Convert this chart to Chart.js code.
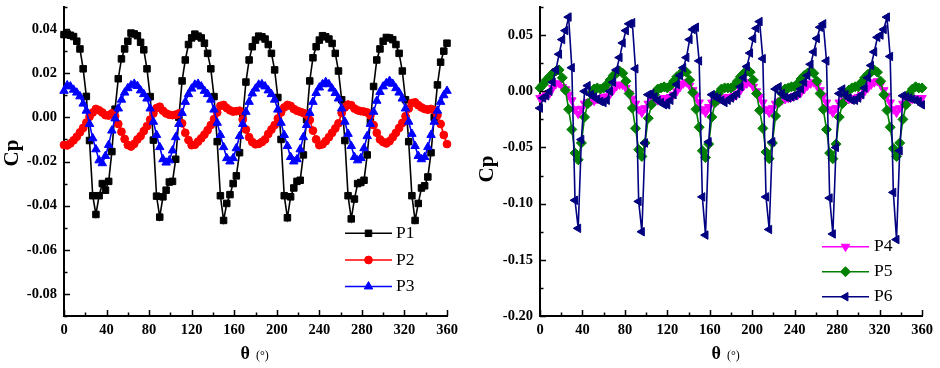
<!DOCTYPE html>
<html>
<head>
<meta charset="utf-8">
<script src="https://cdn.jsdelivr.net/npm/chart.js@4.4.1/dist/chart.umd.min.js"></script>
<style>
  html, body { margin: 0; padding: 0; background: #fff; }
  #page { position: relative; width: 940px; height: 368px; overflow: hidden;
          font-family: "Liberation Serif", "Times New Roman", serif; color: #000; }
  .panel { position: absolute; top: 0; width: 470px; height: 368px; }
  .ytitle { position: absolute; width: 40px; height: 24px; line-height: 24px; text-align: center;
            font-weight: bold; font-size: 21px; transform: rotate(-90deg); white-space: nowrap; }
  .xtitle { position: absolute; line-height: 18px; white-space: nowrap; }
  .xtitle b { font-size: 18px; }
  .xtitle span { font-size: 12px; margin-left: 6px; }
</style>
</head>
<body>
<div id="page">
  <div class="panel" style="left:0"><canvas id="left" width="470" height="368"></canvas></div>
  <div class="panel" style="left:470px"><canvas id="right" width="470" height="368"></canvas></div>
  <div class="ytitle" style="left:-8.6px; top:141.3px">Cp</div>
  <div class="ytitle" style="left:466px; top:157.2px">Cp</div>
  <div class="xtitle" style="left:240.5px; top:344px"><b>θ</b><span>(°)</span></div>
  <div class="xtitle" style="left:711.5px; top:344px"><b>θ</b><span>(°)</span></div>
</div>

<script>
// ---- DATA ----
const theta = [0,3,6,9,12,15,18,21,24,27,30,33,36,39,42,45,48,51,54,57,
  60,63,66,69,72,75,78,81,84,87,90,93,96,99,102,105,108,111,114,117,
  120,123,126,129,132,135,138,141,144,147,150,153,156,159,162,165,168,171,174,177,
  180,183,186,189,192,195,198,201,204,207,210,213,216,219,222,225,228,231,234,237,
  240,243,246,249,252,255,258,261,264,267,270,273,276,279,282,285,288,291,294,297,
  300,303,306,309,312,315,318,321,324,327,330,333,336,339,342,345,348,351,354,357,360];

const p1 = [0.0375,0.0378,0.0372,0.0366,0.0345,0.031,0.022,0.0095,-0.0105,-0.0355,-0.044,-0.0355,-0.030,-0.033,-0.029,-0.0155,0.0037,0.0175,0.0265,0.031,
  0.0345,0.0382,0.0378,0.037,0.034,0.0306,0.022,0.0094,-0.0103,-0.0357,-0.0452,-0.036,-0.033,-0.0293,-0.029,-0.019,0.0,0.0165,0.026,0.033,
  0.036,0.0377,0.0368,0.036,0.0336,0.029,0.022,0.0094,-0.011,-0.0355,-0.0467,-0.039,-0.035,-0.030,-0.0265,-0.016,0.0,0.016,0.026,0.032,
  0.035,0.0368,0.0365,0.0355,0.033,0.029,0.0215,0.009,-0.010,-0.0355,-0.0455,-0.036,-0.032,-0.029,-0.0285,-0.017,-0.001,0.0165,0.027,0.032,
  0.035,0.037,0.0365,0.0355,0.0335,0.029,0.021,0.008,-0.0105,-0.0355,-0.046,-0.037,-0.030,-0.0295,-0.0285,-0.017,-0.002,0.014,0.026,0.031,
  0.0345,0.0362,0.036,0.0352,0.033,0.029,0.021,0.008,-0.011,-0.0355,-0.0467,-0.039,-0.032,-0.031,-0.027,-0.016,0.0,0.0147,0.025,0.030,
  0.0336];

const p2 = [-0.0125,-0.0127,-0.0118,-0.0104,-0.0088,-0.0068,-0.0048,-0.0024,0.0003,0.0022,0.0038,0.0032,0.0022,0.0010,0.0008,0.0018,0.0005,-0.0030,-0.0065,-0.0098,
  -0.0125,-0.0132,-0.0120,-0.0100,-0.0085,-0.0062,-0.0040,-0.0010,0.0018,0.0042,0.0048,0.0030,0.0018,0.0012,0.0010,0.0012,0.0018,-0.0027,-0.0070,-0.0103,
  -0.0126,-0.0124,-0.0110,-0.0095,-0.0078,-0.0058,-0.0035,-0.0008,0.0022,0.0052,0.0056,0.0042,0.0032,0.0026,0.0028,0.0030,-0.0010,-0.0055,-0.0090,-0.0112,
  -0.0122,-0.0120,-0.0112,-0.0100,-0.0075,-0.0055,-0.0035,-0.0005,0.0022,0.0045,0.0056,0.0052,0.0038,0.0030,0.0025,0.0020,0.0012,-0.0012,-0.0060,-0.0100,
  -0.0126,-0.0122,-0.0108,-0.0090,-0.0070,-0.0050,-0.0027,0.0020,0.0045,0.0058,0.0055,0.0040,0.0032,0.0028,0.0026,0.0022,0.0008,-0.0035,-0.0070,-0.0100,
  -0.0112,-0.0118,-0.0108,-0.0090,-0.0070,-0.0048,-0.0025,0.0005,0.0040,0.0065,0.0068,0.0055,0.0045,0.0038,0.0035,0.0038,0.0032,0.0010,-0.0030,-0.0080,
  -0.0121];

const p3 = [0.0120,0.0145,0.0140,0.0125,0.0112,0.0095,0.0062,0.0030,-0.0030,-0.0095,-0.0145,-0.0195,-0.0208,-0.0175,-0.0125,-0.0060,-0.0005,0.0040,0.0080,0.0112,
  0.0132,0.0145,0.0152,0.0142,0.0122,0.0105,0.0085,0.0040,-0.0020,-0.0080,-0.0135,-0.0190,-0.0205,-0.0195,-0.0150,-0.0090,-0.0030,0.0020,0.0070,0.0105,
  0.0130,0.0148,0.0152,0.0140,0.0120,0.0105,0.0080,0.0035,-0.0025,-0.0080,-0.0135,-0.0185,-0.0200,-0.0185,-0.0140,-0.0085,-0.0030,0.0025,0.0070,0.0108,
  0.0130,0.0148,0.0150,0.0140,0.0122,0.0105,0.0080,0.0035,-0.0025,-0.0080,-0.0130,-0.0180,-0.0200,-0.0190,-0.0145,-0.0090,-0.0035,0.0020,0.0070,0.0110,
  0.0135,0.0150,0.0160,0.0150,0.0130,0.0110,0.0085,0.0040,-0.0020,-0.0075,-0.0130,-0.0180,-0.0195,-0.0185,-0.0140,-0.0085,-0.0030,0.0025,0.0075,0.0115,
  0.0140,0.0155,0.0165,0.0152,0.0132,0.0112,0.0085,0.0040,-0.0020,-0.0075,-0.0130,-0.0175,-0.0190,-0.0180,-0.0135,-0.0080,-0.0020,0.0030,0.0070,0.0100,
  0.0120];

const p4 = [-0.006,-0.005,-0.0035,-0.0018,0.003,0.0065,0.0072,0.0038,0.0018,-0.003,-0.008,-0.016,-0.020,-0.0155,-0.011,-0.0095,-0.009,-0.0085,-0.007,-0.006,
  -0.005,-0.0045,-0.0025,0.001,0.0045,0.006,0.0058,0.003,-0.002,-0.0065,-0.011,-0.016,-0.019,-0.015,-0.011,-0.009,-0.008,-0.008,-0.0075,-0.006,
  -0.006,-0.005,-0.003,0.000,0.004,0.007,0.008,0.005,0.001,-0.004,-0.010,-0.016,-0.019,-0.014,-0.010,-0.009,-0.008,-0.007,-0.006,-0.005,
  -0.005,-0.004,-0.002,0.001,0.005,0.007,0.008,0.004,0.000,-0.005,-0.010,-0.016,-0.019,-0.015,-0.011,-0.009,-0.008,-0.007,-0.006,-0.005,
  -0.004,-0.003,-0.001,0.002,0.005,0.007,0.008,0.005,0.001,-0.004,-0.010,-0.016,-0.019,-0.015,-0.010,-0.009,-0.008,-0.007,-0.007,-0.006,
  -0.005,-0.003,0.000,0.003,0.006,0.008,0.009,0.006,0.001,-0.004,-0.010,-0.016,-0.019,-0.015,-0.011,-0.009,-0.008,-0.007,-0.006,-0.006,
  -0.006];

const p5 = [0.003,0.006,0.010,0.013,0.016,0.018,0.019,0.012,0.001,-0.016,-0.034,-0.055,-0.061,-0.046,-0.023,-0.011,-0.002,0.002,0.003,0.002,
  0.003,0.006,0.010,0.014,0.016,0.018,0.016,0.009,-0.002,-0.015,-0.033,-0.052,-0.058,-0.046,-0.024,-0.012,-0.003,0.002,0.003,0.004,
  0.003,0.005,0.009,0.013,0.015,0.018,0.017,0.010,-0.001,-0.016,-0.032,-0.053,-0.059,-0.047,-0.023,-0.010,-0.002,0.002,0.003,0.003,
  0.003,0.005,0.009,0.013,0.016,0.018,0.017,0.010,-0.002,-0.017,-0.033,-0.054,-0.060,-0.046,-0.022,-0.010,-0.002,0.002,0.003,0.004,
  0.004,0.007,0.011,0.014,0.016,0.018,0.016,0.009,-0.002,-0.016,-0.034,-0.055,-0.060,-0.047,-0.023,-0.011,-0.003,0.001,0.003,0.004,
  0.004,0.008,0.012,0.015,0.017,0.019,0.017,0.009,-0.003,-0.017,-0.032,-0.051,-0.058,-0.046,-0.025,-0.012,-0.002,0.002,0.004,0.003,
  0.003];

const p6 = [-0.015,-0.006,-0.004,0.000,0.008,0.019,0.033,0.046,0.054,0.066,0.021,-0.097,-0.122,-0.043,0.000,0.005,-0.003,-0.005,-0.007,-0.009,
  -0.010,-0.008,0.000,0.008,0.019,0.030,0.043,0.054,0.060,0.061,0.020,-0.098,-0.125,-0.046,-0.003,-0.002,-0.005,-0.008,-0.010,-0.012,
  -0.012,-0.008,-0.003,0.006,0.014,0.021,0.030,0.046,0.055,0.057,0.027,-0.094,-0.128,-0.045,-0.003,-0.005,-0.006,-0.008,-0.010,-0.008,
  -0.006,-0.004,-0.002,0.004,0.012,0.022,0.034,0.047,0.056,0.062,0.029,-0.094,-0.123,-0.045,0.002,0.004,-0.002,-0.005,-0.006,-0.005,
  -0.004,-0.002,0.002,0.008,0.014,0.024,0.035,0.047,0.057,0.060,0.027,-0.095,-0.127,-0.050,-0.002,0.002,-0.003,-0.006,-0.008,-0.008,
  -0.006,-0.003,0.003,0.012,0.023,0.035,0.048,0.050,0.055,0.066,0.031,-0.090,-0.132,-0.053,-0.004,-0.005,-0.006,-0.007,-0.008,-0.009,
  -0.012];

// ---- HELPERS ----
const FONT = '"Liberation Serif", "Times New Roman", serif';

function pts(ys) {
  return theta.map((t, i) => ({ x: t, y: ys[i] }));
}

function series(label, ys, color, style, rotation, radius, order) {
  return {
    label, data: pts(ys),
    borderColor: color, backgroundColor: color,
    pointBackgroundColor: color, pointBorderColor: color,
    borderWidth: 1.6, pointBorderWidth: 1,
    pointStyle: style, pointRotation: rotation, pointRadius: radius,
    tension: 0, clip: false, order
  };
}

// inward major/minor ticks, like the original plotting software
const inwardTicks = {
  id: 'inwardTicks',
  afterDraw(chart) {
    const { ctx, chartArea: a, scales: { x, y } } = chart;
    ctx.save();
    ctx.strokeStyle = '#000';
    ctx.lineWidth = 1.5;
    x.ticks.forEach(t => {
      const px = Math.round(x.getPixelForValue(t.value)) + 0.5;
      const len = t.label ? 6 : 3.5;
      ctx.beginPath(); ctx.moveTo(px, a.bottom); ctx.lineTo(px, a.bottom - len); ctx.stroke();
    });
    y.ticks.forEach(t => {
      const py = Math.round(y.getPixelForValue(t.value)) + 0.5;
      const len = t.label ? 6 : 3.5;
      ctx.beginPath(); ctx.moveTo(a.left, py); ctx.lineTo(a.left + len, py); ctx.stroke();
    });
    ctx.restore();
  }
};

function boxLegend(pos) {
  return {
    id: 'boxLegend',
    afterDraw(chart) {
      const ctx = chart.ctx;
      ctx.save();
      chart.data.datasets.forEach((ds, i) => {
        const y = pos.rows[i];
        ctx.strokeStyle = ds.borderColor;
        ctx.lineWidth = 1.6;
        ctx.beginPath(); ctx.moveTo(pos.x1, y); ctx.lineTo(pos.x2, y); ctx.stroke();
        ctx.fillStyle = ds.pointBackgroundColor;
        ctx.lineWidth = 1;
        Chart.helpers.drawPoint(ctx, {
          pointStyle: ds.pointStyle, rotation: ds.pointRotation,
          radius: ds.pointRadius, borderWidth: 1
        }, (pos.x1 + pos.x2) / 2, y);
        ctx.fillStyle = '#000';
        ctx.font = '17.5px ' + FONT;
        ctx.textBaseline = 'middle';
        ctx.textAlign = 'left';
        ctx.fillText(ds.label, pos.tx, y);
      });
      ctx.restore();
    }
  };
}

function makePanel(id, datasets, yAxis, area, legendPos) {
  const tickFont = { family: FONT, size: 14.5, weight: 'bold' };
  new Chart(document.getElementById(id), {
    type: 'line',
    data: { datasets },
    options: {
      responsive: false,
      animation: false,
      devicePixelRatio: 1,
      layout: { padding: { left: 0, top: area.top, right: area.right, bottom: 0 } },
      plugins: { legend: { display: false }, tooltip: { enabled: false } },
      scales: {
        x: {
          type: 'linear', min: 0, max: 360,
          border: { display: true, color: '#000', width: 2 },
          grid: { display: false, drawTicks: false },
          ticks: {
            stepSize: 20, autoSkip: false, maxRotation: 0, padding: 6,
            color: '#000', font: tickFont,
            callback: v => (v % 40 === 0 ? String(v) : '')
          },
          afterFit: s => { s.height = 368 - area.bottom; s.paddingLeft = 0; s.paddingRight = 0; }
        },
        y: {
          type: 'linear', min: yAxis.min, max: yAxis.max,
          border: { display: true, color: '#000', width: 2 },
          grid: { display: false, drawTicks: false },
          ticks: {
            stepSize: yAxis.step, autoSkip: false, padding: 7, maxTicksLimit: 100,
            color: '#000', font: tickFont,
            callback: yAxis.label
          },
          afterFit: s => { s.width = area.left; s.paddingTop = 0; s.paddingBottom = 0; }
        }
      }
    },
    plugins: [inwardTicks, boxLegend(legendPos)]
  });
}

// ---- LEFT PANEL: P1, P2, P3 ----
makePanel('left', [
  series('P1', p1, '#000000', 'rect', 0, 4.6, 2),
  series('P2', p2, '#ff0000', 'circle', 0, 3.9, 1),
  series('P3', p3, '#0000ff', 'triangle', 0, 4.9, 0)
], {
  min: -0.09, max: 0.05, step: 0.01,
  label: v => { const r = Math.round(v * 100); return r % 2 === 0 ? (r / 100).toFixed(2) : ''; }
}, { left: 64, right: 23, top: 7, bottom: 316 },
{ x1: 345, x2: 392, tx: 396, rows: [233.3, 260, 286.5] });

// ---- RIGHT PANEL: P4, P5, P6 ----
makePanel('right', [
  series('P4', p4, '#ff00ff', 'triangle', 180, 4.9, 2),
  series('P5', p5, '#008000', 'rectRot', 0, 5, 1),
  series('P6', p6, '#000080', 'triangle', -90, 4.9, 0)
], {
  min: -0.2, max: 0.075, step: 0.025,
  label: v => { const r = Math.round(v * 1000); return r % 50 === 0 ? (r / 1000).toFixed(2) : ''; }
}, { left: 70, right: 18, top: 7, bottom: 316 },
{ x1: 352, x2: 399, tx: 404, rows: [246.7, 271.7, 296.7] });
</script>
</body>
</html>
